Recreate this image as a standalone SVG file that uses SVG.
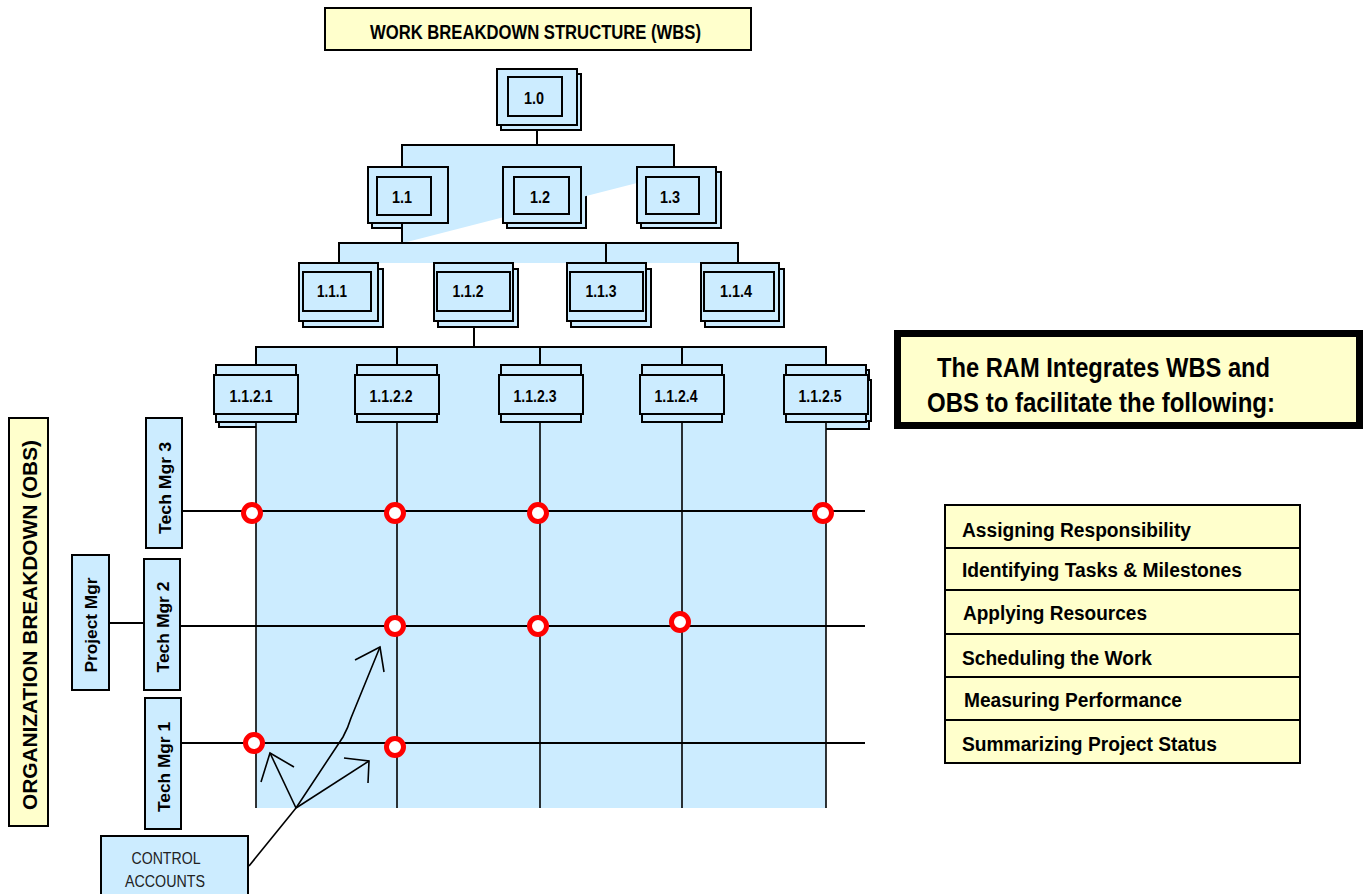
<svg xmlns="http://www.w3.org/2000/svg" width="1367" height="894" viewBox="0 0 1367 894">
<style>
.bx{fill:#CCECFF;stroke:#000;stroke-width:2}
.yl{fill:#FFFFCC;stroke:#000;stroke-width:2}
.ln{fill:none;stroke:#000;stroke-width:2}
.gl{fill:none;stroke:#000;stroke-width:1.6}
.ar{fill:none;stroke:#000;stroke-width:1.6}
.bg{fill:#CCECFF;stroke:none}
.rc{fill:#fff;stroke:#FF0000;stroke-width:5}
.t{font-family:"Liberation Sans",Arial,sans-serif;font-weight:bold;fill:#000}
.n{font-size:16.5px;text-anchor:middle}
.v{font-size:17px;text-anchor:middle}
.li{font-size:20px}
</style>

<!-- shadows -->
<g id="shadows">
<rect class="bx" x="501" y="74" width="80" height="56"/>
<rect class="bx" x="372" y="172" width="80" height="56"/>
<rect class="bx" x="507" y="172" width="79" height="56"/>
<rect class="bx" x="641" y="172" width="80" height="56"/>
<rect class="bx" x="303" y="269" width="80" height="58"/>
<rect class="bx" x="438" y="269" width="80" height="58"/>
<rect class="bx" x="571" y="269" width="80" height="58"/>
<rect class="bx" x="705" y="269" width="79" height="58"/>
<g>
<rect class="bx" x="219" y="370" width="80" height="10"/>
<rect class="bx" x="217" y="380" width="84" height="39"/>
<rect class="bx" x="219" y="419" width="80" height="8"/>
</g>
<g>
<rect class="bx" x="789" y="370" width="80" height="10"/>
<rect class="bx" x="787" y="380" width="84" height="41"/>
<rect class="bx" x="789" y="421" width="80" height="8"/>
</g>
</g>

<!-- blue background areas -->
<g id="background">
<polygon class="bg" points="402,145 674,145 674,167 637,167 637,183 403,243 402,243"/>
<rect class="bg" x="339" y="243" width="399" height="20"/>
<rect class="bg" x="256" y="347" width="570" height="461"/>
</g>

<!-- connectors -->
<g id="connectors">
<line class="ln" x1="537" y1="130" x2="537" y2="145"/>
<polyline class="ln" points="402,243 402,145 674,145 674,167"/>
<polyline class="ln" points="339,263 339,243 738,243 738,263"/>
<line class="ln" x1="606" y1="243" x2="606" y2="263"/>
<line class="ln" x1="474" y1="327" x2="474" y2="347"/>
<polyline class="ln" points="256,365 256,347 826,347 826,365"/>
<line class="ln" x1="397" y1="347" x2="397" y2="365"/>
<line class="ln" x1="540" y1="347" x2="540" y2="365"/>
<line class="ln" x1="682" y1="347" x2="682" y2="365"/>
<line class="gl" x1="256" y1="422" x2="256" y2="808"/>
<line class="gl" x1="397" y1="422" x2="397" y2="808"/>
<line class="gl" x1="540" y1="422" x2="540" y2="808"/>
<line class="gl" x1="682" y1="422" x2="682" y2="808"/>
<line class="gl" x1="826" y1="422" x2="826" y2="808"/>
<line class="ln" x1="182" y1="511" x2="865" y2="511"/>
<line class="ln" x1="180" y1="626" x2="865" y2="626"/>
<line class="ln" x1="181" y1="743" x2="865" y2="743"/>
<line class="ln" x1="109" y1="623" x2="144" y2="623"/>
<!-- control account arrows -->
<line class="ar" x1="249" y1="866" x2="296" y2="808"/>
<line class="ar" x1="296" y1="808" x2="270" y2="753"/>
<polyline class="ar" points="261,782 270,753 294,767"/>
<line class="ar" x1="296" y1="808" x2="369" y2="761"/>
<polyline class="ar" points="344,758 369,761 368,783"/>
<path class="ar" d="M296,808 L343,737 Q348,728 351,718 L380,647"/>
<polyline class="ar" points="355,660 380,647 384,672"/>
</g>

<!-- title -->
<g id="title">
<rect class="yl" x="325" y="8" width="426" height="42"/>
<text class="t" x="370" y="39" font-size="21" textLength="331" lengthAdjust="spacingAndGlyphs">WORK BREAKDOWN STRUCTURE (WBS)</text>
</g>

<!-- WBS nodes -->
<g id="n1_0">
<rect class="bx" x="497" y="69" width="80" height="56"/>
<rect class="bx" x="508" y="77" width="54" height="39"/>
<text class="t n" x="534" y="104" textLength="20" lengthAdjust="spacingAndGlyphs">1.0</text>
</g>
<g id="n1_1">
<rect class="bx" x="368" y="167" width="80" height="56"/>
<rect class="bx" x="377" y="177" width="54" height="38"/>
<text class="t n" x="402" y="203" textLength="20" lengthAdjust="spacingAndGlyphs">1.1</text>
</g>
<g id="n1_2">
<rect class="bx" x="503" y="167" width="78" height="56"/>
<rect class="bx" x="514" y="177" width="55" height="37"/>
<text class="t n" x="540" y="203" textLength="20" lengthAdjust="spacingAndGlyphs">1.2</text>
</g>
<g id="n1_3">
<rect class="bx" x="637" y="167" width="79" height="56"/>
<rect class="bx" x="646" y="177" width="53" height="37"/>
<text class="t n" x="670" y="203" textLength="20" lengthAdjust="spacingAndGlyphs">1.3</text>
</g>
<g id="n1_1_1">
<rect class="bx" x="299" y="263" width="79" height="58"/>
<rect class="bx" x="303" y="272" width="68" height="39"/>
<text class="t n" x="332" y="297" textLength="30" lengthAdjust="spacingAndGlyphs">1.1.1</text>
</g>
<g id="n1_1_2">
<rect class="bx" x="434" y="263" width="79" height="58"/>
<rect class="bx" x="437" y="272" width="73" height="39"/>
<text class="t n" x="468" y="297" textLength="31" lengthAdjust="spacingAndGlyphs">1.1.2</text>
</g>
<g id="n1_1_3">
<rect class="bx" x="567" y="263" width="79" height="58"/>
<rect class="bx" x="570" y="272" width="73" height="39"/>
<text class="t n" x="601" y="297" textLength="31" lengthAdjust="spacingAndGlyphs">1.1.3</text>
</g>
<g id="n1_1_4">
<rect class="bx" x="701" y="263" width="78" height="58"/>
<rect class="bx" x="704" y="272" width="70" height="39"/>
<text class="t n" x="736" y="297" textLength="32" lengthAdjust="spacingAndGlyphs">1.1.4</text>
</g>

<g id="n1_1_2_1">
<rect class="bx" x="216" y="365" width="80" height="10"/>
<rect class="bx" x="216" y="414" width="80" height="8"/>
<rect class="bx" x="214" y="375" width="84" height="39"/>
<text class="t n" x="251" y="402" textLength="43" lengthAdjust="spacingAndGlyphs">1.1.2.1</text>
</g>
<g id="n1_1_2_2">
<rect class="bx" x="357" y="365" width="80" height="10"/>
<rect class="bx" x="357" y="414" width="80" height="8"/>
<rect class="bx" x="355" y="375" width="84" height="39"/>
<text class="t n" x="391" y="402" textLength="43" lengthAdjust="spacingAndGlyphs">1.1.2.2</text>
</g>
<g id="n1_1_2_3">
<rect class="bx" x="501" y="365" width="80" height="10"/>
<rect class="bx" x="501" y="414" width="80" height="8"/>
<rect class="bx" x="499" y="375" width="84" height="39"/>
<text class="t n" x="535" y="402" textLength="43" lengthAdjust="spacingAndGlyphs">1.1.2.3</text>
</g>
<g id="n1_1_2_4">
<rect class="bx" x="642" y="365" width="80" height="10"/>
<rect class="bx" x="642" y="414" width="80" height="8"/>
<rect class="bx" x="640" y="375" width="84" height="39"/>
<text class="t n" x="676" y="402" textLength="43" lengthAdjust="spacingAndGlyphs">1.1.2.4</text>
</g>
<g id="n1_1_2_5">
<rect class="bx" x="786" y="365" width="80" height="10"/>
<rect class="bx" x="786" y="414" width="80" height="8"/>
<rect class="bx" x="784" y="375" width="84" height="39"/>
<text class="t n" x="820" y="402" textLength="43" lengthAdjust="spacingAndGlyphs">1.1.2.5</text>
</g>

<!-- OBS -->
<g id="obs_title">
<rect class="yl" x="9" y="418" width="39" height="408"/>
<text class="t" font-size="20" text-anchor="middle" transform="translate(37,625) rotate(-90)" textLength="370" lengthAdjust="spacingAndGlyphs">ORGANIZATION BREAKDOWN (OBS)</text>
</g>
<g id="tech_mgr_3">
<rect class="bx" x="146" y="418" width="36" height="130"/>
<text class="t v" transform="translate(171,488) rotate(-90)" textLength="92" lengthAdjust="spacingAndGlyphs">Tech Mgr 3</text>
</g>
<g id="project_mgr">
<rect class="bx" x="72" y="555" width="37" height="135"/>
<text class="t v" transform="translate(97,625) rotate(-90)" textLength="95" lengthAdjust="spacingAndGlyphs">Project Mgr</text>
</g>
<g id="tech_mgr_2">
<rect class="bx" x="144" y="559" width="36" height="131"/>
<text class="t v" transform="translate(169,627) rotate(-90)" textLength="91" lengthAdjust="spacingAndGlyphs">Tech Mgr 2</text>
</g>
<g id="tech_mgr_1">
<rect class="bx" x="145" y="698" width="36" height="131"/>
<text class="t v" transform="translate(170,767) rotate(-90)" textLength="90" lengthAdjust="spacingAndGlyphs">Tech Mgr 1</text>
</g>

<!-- control account markers -->
<g id="markers">
<circle class="rc" cx="252" cy="513" r="8.5"/>
<circle class="rc" cx="395" cy="513" r="8.5"/>
<circle class="rc" cx="538" cy="513" r="8.5"/>
<circle class="rc" cx="823" cy="513" r="8.5"/>
<circle class="rc" cx="395" cy="626" r="8.5"/>
<circle class="rc" cx="538" cy="626" r="8.5"/>
<circle class="rc" cx="680" cy="622" r="8.5"/>
<circle class="rc" cx="254" cy="743" r="8.5"/>
<circle class="rc" cx="395" cy="747" r="8.5"/>
</g>

<g id="control_accounts">
<rect class="bx" x="101" y="836" width="147" height="66"/>
<text x="166" y="864" font-family="Liberation Sans, Arial, sans-serif" font-size="16" fill="#222" text-anchor="middle" textLength="69" lengthAdjust="spacingAndGlyphs">CONTROL</text>
<text x="165" y="887" font-family="Liberation Sans, Arial, sans-serif" font-size="16" fill="#222" text-anchor="middle" textLength="80" lengthAdjust="spacingAndGlyphs">ACCOUNTS</text>
</g>

<!-- RAM note -->
<g id="ram_note">
<rect x="897.5" y="333.5" width="462" height="92" fill="#FFFFCC" stroke="#000" stroke-width="7"/>
<text class="t" x="937" y="377" font-size="27" textLength="333" lengthAdjust="spacingAndGlyphs">The RAM Integrates WBS and</text>
<text class="t" x="927" y="412" font-size="27" textLength="348" lengthAdjust="spacingAndGlyphs">OBS to facilitate the following:</text>
</g>

<g id="ram_list">
<rect class="yl" x="945" y="505" width="355" height="43"/>
<rect class="yl" x="945" y="548" width="355" height="42"/>
<rect class="yl" x="945" y="590" width="355" height="44"/>
<rect class="yl" x="945" y="634" width="355" height="43"/>
<rect class="yl" x="945" y="677" width="355" height="43"/>
<rect class="yl" x="945" y="720" width="355" height="43"/>
<text class="t li" x="962" y="537" textLength="229" lengthAdjust="spacingAndGlyphs">Assigning Responsibility</text>
<text class="t li" x="962" y="577" textLength="280" lengthAdjust="spacingAndGlyphs">Identifying Tasks &amp; Milestones</text>
<text class="t li" x="963" y="620" textLength="184" lengthAdjust="spacingAndGlyphs">Applying Resources</text>
<text class="t li" x="962" y="665" textLength="190" lengthAdjust="spacingAndGlyphs">Scheduling the Work</text>
<text class="t li" x="964" y="707" textLength="218" lengthAdjust="spacingAndGlyphs">Measuring Performance</text>
<text class="t li" x="962" y="751" textLength="255" lengthAdjust="spacingAndGlyphs">Summarizing Project Status</text>
</g>
</svg>
